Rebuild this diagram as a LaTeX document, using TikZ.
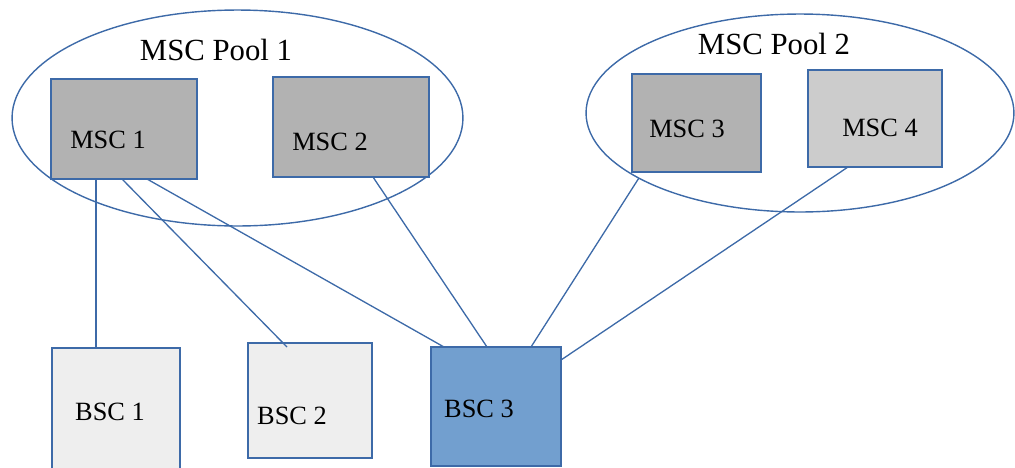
\documentclass[tikz,border=0pt]{standalone}
\usepackage{fontspec}
\setmainfont{Liberation Serif}
\usetikzlibrary{shapes.geometric,calc}
\definecolor{edgeblue}{HTML}{3D6AA8}
\definecolor{mscdark}{HTML}{B2B2B2}
\definecolor{msclight}{HTML}{CCCCCC}
\definecolor{bscgrey}{HTML}{EEEEEE}
\definecolor{bscblue}{HTML}{729FCF}
\begin{document}
\begin{tikzpicture}[x=0.02cm,y=-0.02cm,
  unit/.style={draw=edgeblue, line width=0.9pt, inner sep=0pt, outer sep=0pt},
  pool/.style={ellipse, draw=edgeblue, line width=0.8pt, inner sep=0pt, outer sep=0pt},
  lbl/.style={anchor=base, inner sep=0pt, font=\fontsize{15}{18}\selectfont},
  poollbl/.style={anchor=base, inner sep=0pt, font=\fontsize{17.5}{21}\selectfont},
  link/.style={draw=edgeblue, line width=0.75pt}]
\useasboundingbox (0,0) rectangle (1015,467);

% MSC pools
\node[pool, minimum width=9.02cm, minimum height=4.32cm] (pool1) at (237.5,118) {};
\node[pool, minimum width=8.56cm, minimum height=3.96cm] (pool2) at (800,113) {};
\node[poollbl] (pool1lbl) at (216,60) {MSC Pool 1};
\node[poollbl] (pool2lbl) at (774,54) {MSC Pool 2};

% switching centres
\node[unit, fill=mscdark,  minimum width=2.92cm, minimum height=2.00cm] (m1) at (124,129) {};
\node[unit, fill=mscdark,  minimum width=3.12cm, minimum height=2.00cm] (m2) at (351,127) {};
\node[unit, fill=mscdark,  minimum width=2.58cm, minimum height=1.96cm] (m3) at (696.5,123) {};
\node[unit, fill=msclight, minimum width=2.68cm, minimum height=1.94cm] (m4) at (875,118.5) {};
\node[lbl] (m1lbl) at (108,148) {MSC 1};
\node[lbl] (m2lbl) at (330,150) {MSC 2};
\node[lbl] (m3lbl) at (687,137) {MSC 3};
\node[lbl] (m4lbl) at (880,136) {MSC 4};

% base station controllers
\node[unit, fill=bscgrey, minimum width=2.56cm, minimum height=2.54cm] (b1) at (116,411.5) {};
\node[unit, fill=bscgrey, minimum width=2.48cm, minimum height=2.30cm] (b2) at (310,400.5) {};
\node[unit, fill=bscblue, minimum width=2.60cm, minimum height=2.38cm] (b3) at (496,406.5) {};
\node[lbl] (b1lbl) at (110,420) {BSC 1};
\node[lbl] (b2lbl) at (292,424) {BSC 2};
\node[lbl] (b3lbl) at (479,417) {BSC 3};

% links
\coordinate (m1a) at ([xshift=0.90cm]m1.south west);
\draw[link] (m1a) -- (m1a |- b1.north);
\draw[link] ([xshift=1.42cm]m1.south west) -- ([xshift=0.78cm,yshift=-0.08cm]b2.north west);
\draw[link] ([xshift=1.92cm]m1.south west) -- ([xshift=0.26cm]b3.north west);
\draw[link] ([xshift=2.00cm]m2.south west) -- ([xshift=1.12cm]b3.north west);
\draw[link] (pool2.202) -- ([xshift=2.00cm]b3.north west);
\draw[link] ([xshift=0.80cm]m4.south west) -- ([yshift=-0.26cm]b3.north east);
\end{tikzpicture}
\end{document}
